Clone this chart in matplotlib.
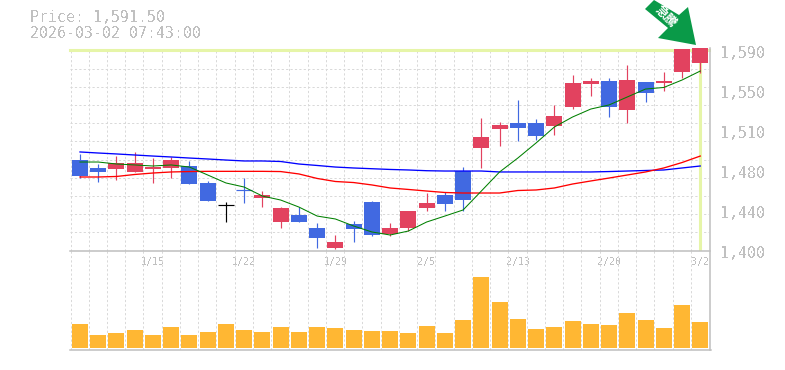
import matplotlib
matplotlib.use("Agg")
import matplotlib.pyplot as plt
from matplotlib.patches import Polygon, Rectangle
from matplotlib.ticker import FixedLocator

plt.rcParams['text.antialiased'] = False
FONT = ['DejaVu Sans Mono', 'Liberation Mono']
JP = ['Noto Sans CJK JP', 'DejaVu Sans']

W, H = 785, 370
X0, X1, Y_TOP, Y_MID, Y_BOT = 70, 708.5, 50.5, 250.5, 350

# ---- data ----
title_lines = ["Price: 1,591.50", "2026-03-02 07:43:00"]
price_ticks = ["1,400", "1,440", "1,480", "1,510", "1,550", "1,590"]
date_labels = ["1/15", "1/22", "1/29", "2/5", "2/13", "2/20", "3/2"]
date_index = [4, 9, 14, 19, 24, 29, 34]
last_price = 1591.5
PER_PX = 0.955

body_top = [1486.4, 1478.8, 1483.6, 1483.6, 1479.7, 1486.4, 1480.7, 1464.5, 1443.5, 1457.8,
            1453.0, 1440.6, 1433.9, 1421.5, 1408.1, 1425.3, 1446.3, 1421.5, 1437.7, 1445.4,
            1453.0, 1475.9, 1508.4, 1519.9, 1521.8, 1521.8, 1528.4, 1560.0, 1561.9, 1561.9,
            1562.8, 1560.9, 1561.9, 1592.4, 1593.4]
body_bottom = [1471.1, 1475.0, 1477.8, 1475.0, 1477.8, 1478.8, 1463.5, 1447.3, 1443.5, 1457.8,
               1450.1, 1427.2, 1427.2, 1411.9, 1402.4, 1420.5, 1414.8, 1415.8, 1421.5, 1440.6,
               1444.4, 1448.2, 1497.9, 1516.0, 1517.0, 1509.3, 1518.9, 1537.0, 1559.0, 1537.0,
               1534.2, 1550.4, 1560.0, 1570.5, 1579.1]
highs = [1492.2, 1482.6, 1490.2, 1494.1, 1488.3, 1489.3, 1485.5, 1466.4, 1446.3, 1469.2,
         1456.8, 1441.5, 1441.5, 1426.3, 1414.8, 1428.2, 1447.3, 1426.3, 1437.7, 1454.9,
         1455.9, 1479.7, 1526.5, 1522.7, 1543.7, 1525.6, 1539.0, 1567.6, 1564.7, 1564.7,
         1577.2, 1560.9, 1570.5, 1592.4, 1593.4]
lows = [1469.5, 1465.4, 1467.3, 1475.0, 1464.5, 1469.2, 1463.5, 1447.3, 1427.2, 1445.4,
        1441.5, 1421.5, 1427.2, 1402.4, 1401.4, 1408.1, 1413.8, 1413.8, 1418.6, 1437.7,
        1437.7, 1437.7, 1478.8, 1499.8, 1504.6, 1505.5, 1510.3, 1535.1, 1547.5, 1527.5,
        1521.8, 1541.8, 1552.3, 1564.7, 1569.5]
candle_kind = ["b", "b", "r", "r", "r", "r", "b", "b", "k", "b",
               "r", "r", "b", "b", "r", "b", "b", "r", "r", "r",
               "b", "b", "r", "r", "b", "b", "r", "r", "r", "b",
               "r", "b", "r", "r", "r"]

ma_green = [1484.5, 1484.5, 1482.6, 1481.7, 1480.7, 1481.7, 1479.7, 1472.1, 1464.5, 1460.6,
            1452.0, 1448.2, 1441.5, 1432.9, 1430.1, 1423.4, 1417.7, 1414.8, 1418.6, 1427.2,
            1432.9, 1438.7, 1456.8, 1475.0, 1488.3, 1502.7, 1517.9, 1527.5, 1535.1, 1539.0,
            1546.6, 1554.2, 1555.7, 1562.8, 1571.4]
ma_red = [1470.2, 1470.2, 1470.7, 1472.6, 1474.0, 1475.0, 1475.4, 1475.6, 1475.6, 1475.6,
          1475.6, 1475.4, 1473.1, 1468.8, 1465.9, 1464.9, 1462.6, 1459.7, 1458.3, 1456.8,
          1455.4, 1454.9, 1454.9, 1454.9, 1457.3, 1457.8, 1459.7, 1463.5, 1466.4, 1469.2,
          1472.1, 1475.0, 1478.8, 1484.0, 1490.2]
ma_blue = [1494.1, 1493.1, 1492.2, 1491.2, 1490.2, 1489.3, 1488.3, 1487.4, 1486.4, 1485.5,
           1485.5, 1485.0, 1482.6, 1481.2, 1479.7, 1478.8, 1478.1, 1477.4, 1476.9, 1476.2,
           1475.9, 1475.9, 1475.9, 1475.0, 1475.0, 1475.0, 1475.0, 1475.0, 1475.0, 1475.4,
           1475.9, 1476.4, 1476.9, 1478.8, 1480.7]
volume = [24, 13, 15, 18, 13, 21, 13, 16, 24, 18, 16, 21, 16, 21, 20, 18, 17, 17, 15, 22,
          15, 28, 71, 46, 29, 19, 21, 27, 24, 23, 35, 28, 20, 43, 26]

# ---- colours ----
cmap = {"r": "#e2425f", "b": "#4169e1", "k": "#000000"}
GRID = "#d9d9d9"
AXC = "#bfbfbf"
TXT = "#c0c0c0"
HL = "#e6f5a8"
ORANGE = "#ffb733"
ARROW = "#0a9a48"

fig = plt.figure(figsize=(W / 100, H / 100), dpi=100, facecolor="white")


def add_ax(top, bot):
    return fig.add_axes([X0 / W, 1 - bot / H, (X1 - X0) / W, (bot - top) / H])


ax = add_ax(Y_TOP, Y_MID)
av = add_ax(Y_MID, Y_BOT)
n = len(body_top)
DASH = (0, (2.2, 2.2))
for a in (ax, av):
    a.set_xlim(-0.548, n - 0.548)
    a.set_facecolor("none")
    for s in a.spines.values():
        s.set_visible(False)
    a.xaxis.set_major_locator(FixedLocator([i - 0.52 for i in range(n)]))
    a.tick_params(left=False, bottom=False, labelleft=False, labelbottom=False)
    a.grid(True, axis="x", color=GRID, lw=0.72, ls=DASH, zorder=0, snap=True)
    a.set_axisbelow(True)

ybot = 1400.0
ytop = ybot + 200 * PER_PX
ax.set_ylim(ybot, ytop)
ax.yaxis.set_major_locator(FixedLocator([ybot + i * 200 * PER_PX / 11 for i in range(12)]))
ax.grid(True, axis="y", color=GRID, lw=0.72, ls=DASH, zorder=0, snap=True)

# highlights
ax.axhline(last_price, color=HL, lw=2.2, zorder=1, clip_on=False)
ax.axvline(34, color=HL, lw=2.2, zorder=1)

# candles
w = 16 / 18.24
for i in range(n):
    c = cmap[candle_kind[i]]
    ax.plot([i, i], [lows[i], highs[i]], color=c, lw=0.85, solid_capstyle="butt",
            zorder=3, clip_on=False)
    lo, hi = body_bottom[i], body_top[i]
    if hi - lo < 1.5:
        ax.plot([i - w / 2, i + w / 2], [(lo + hi) / 2] * 2, color=c, lw=0.85,
                zorder=3, solid_capstyle="butt")
    else:
        ax.add_patch(Rectangle((i - w / 2, lo), w, hi - lo, fc=c, ec="none",
                               zorder=3, clip_on=False))

xs = list(range(n))
ax.plot(xs, ma_blue, color="#0000ff", lw=0.95, zorder=4)
ax.plot(xs, ma_red, color="#ff0000", lw=0.95, zorder=4)
ax.plot(xs, ma_green, color="#008000", lw=0.75, zorder=4)

# volume
av.set_ylim(-2, 98)
av.bar(xs, volume, width=w, color=ORANGE, zorder=3, linewidth=0, clip_on=False)

# frame lines
fig.add_artist(plt.Line2D([X0 / W, 710 / W], [1 - Y_MID / H] * 2, color=AXC, lw=1.1))
fig.add_artist(plt.Line2D([X0 / W, 710.5 / W], [1 - Y_BOT / H] * 2, color=AXC, lw=1.1))
fig.add_artist(plt.Line2D([710 / W] * 2, [1 - 48 / H, 1 - Y_BOT / H], color=AXC, lw=1.1))

# texts
fig.text(30 / W, 1 - 18 / H, title_lines[0], family=FONT, fontsize=10.7, color=TXT,
         ha="left", va="center")
fig.text(30 / W, 1 - 33 / H, title_lines[1], family=FONT, fontsize=10.7, color=TXT,
         ha="left", va="center")
for k, lab in enumerate(price_ticks):
    yp = 253.5 - 40 * k
    fig.text(720 / W, 1 - yp / H, lab, family=FONT, fontsize=10.7, color=TXT,
             ha="left", va="center")
for idx, lab in zip(date_index, date_labels):
    ax.annotate(lab, xy=(idx, 0), xycoords=("data", "axes fraction"),
                xytext=(0, -12), textcoords="offset pixels", family=FONT, fontsize=7.2,
                color=TXT, ha="center", va="center", annotation_clip=False)

# arrow badge
pts = [(645, 9), (654, 0), (679, 15), (688, 7), (696, 45), (658, 38), (668, 28)]
fig.add_artist(Polygon([(x / W, 1 - y / H) for x, y in pts], closed=True,
                       transform=fig.transFigure, fc=ARROW, ec="none", zorder=6))
fig.text(665.5 / W, 1 - 17 / H, "急騰", family=JP, fontsize=9, weight="bold", color="white",
         rotation=-45, rotation_mode="anchor", ha="center", va="center", zorder=7,
         antialiased=True)

fig.savefig("out.png", dpi=100, facecolor="white")
